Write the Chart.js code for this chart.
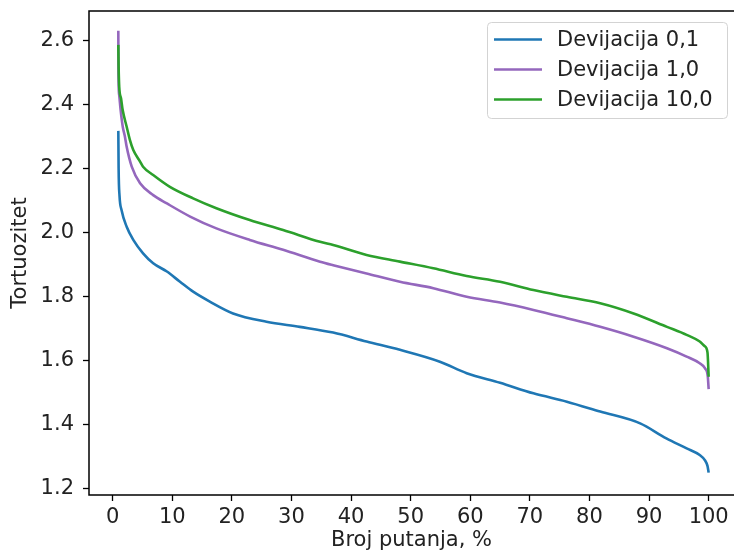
<!DOCTYPE html>
<html lang="en">
<head>
  <meta charset="UTF-8">
  <title>Tortuozitet</title>
  <script src="https://cdn.jsdelivr.net/npm/chart.js"></script>
  <style>
    html, body { margin: 0; padding: 0; background: #fff; }
    #wrap { width: 734px; height: 553px; }
  </style>
</head>
<body>
  <div id="wrap"><canvas id="chart" width="734" height="553"></canvas></div>

  <script>
    const seriesLabels = ["Devijacija 0,1", "Devijacija 1,0", "Devijacija 10,0"];
    const seriesColors = ["#1f77b4", "#9467bd", "#2ca02c"];

    const dev01X = [0.95, 1.0, 1.15, 1.5, 2.35, 3.46, 5.1, 6.8, 9.1, 11.3, 13.5, 16.3, 20.2, 25.8, 31.4, 37, 42.6, 48.2, 54.9, 59.4, 65, 70.6, 76.2, 81.8, 88.5, 92.9, 96.3, 98.5, 99.4, 99.8, 100];
    const dev01Y = [2.318, 2.2, 2.115, 2.07, 2.018, 1.977, 1.935, 1.904, 1.878, 1.846, 1.815, 1.784, 1.747, 1.721, 1.705, 1.687, 1.659, 1.633, 1.596, 1.56, 1.53, 1.497, 1.471, 1.44, 1.403, 1.356, 1.325, 1.304, 1.287, 1.27, 1.249];

    const dev1X = [0.95, 0.97, 1.1, 1.34, 1.7, 2.06, 2.35, 3.2, 4.6, 6.8, 9.1, 13, 17.4, 23, 28.6, 34.8, 37, 42.6, 48.2, 53.8, 59.4, 65, 70.6, 76.2, 81.8, 87.4, 93, 96.3, 98.5, 99.4, 99.85, 100];
    const dev1Y = [2.631, 2.5, 2.43, 2.383, 2.33, 2.3, 2.268, 2.206, 2.154, 2.117, 2.091, 2.05, 2.013, 1.977, 1.946, 1.909, 1.898, 1.872, 1.846, 1.826, 1.799, 1.781, 1.758, 1.732, 1.705, 1.674, 1.638, 1.612, 1.591, 1.575, 1.55, 1.51];

    const dev10X = [0.95, 1.0, 1.1, 1.4, 1.68, 2.35, 2.9, 3.46, 4.6, 5.1, 6.8, 9.6, 13.5, 17.4, 23, 28.6, 34.8, 37, 42.6, 48.2, 53.8, 59.4, 65, 70.6, 76.2, 81.8, 87.4, 93, 96.3, 98.5, 99.3, 99.8, 100];
    const dev10Y = [2.587, 2.52, 2.456, 2.42, 2.383, 2.331, 2.289, 2.258, 2.222, 2.206, 2.18, 2.143, 2.107, 2.076, 2.039, 2.008, 1.971, 1.961, 1.93, 1.909, 1.888, 1.864, 1.846, 1.82, 1.799, 1.779, 1.747, 1.705, 1.68, 1.659, 1.645, 1.625, 1.549];

    const xTicks = [0, 10, 20, 30, 40, 50, 60, 70, 80, 90, 100];
    const yTicks = [1.2, 1.4, 1.6, 1.8, 2.0, 2.2, 2.4, 2.6];

    const FONT = "'DejaVu Sans', sans-serif";
    const toPoints = (xs, ys) => xs.map((x, i) => ({ x: x, y: ys[i] }));
    const seriesData = [toPoints(dev01X, dev01Y), toPoints(dev1X, dev1Y), toPoints(dev10X, dev10Y)];

    // spines (top, left, bottom) like matplotlib
    const spines = {
      id: 'spines',
      afterDraw(chart) {
        const { ctx, chartArea: a } = chart;
        ctx.save();
        ctx.strokeStyle = '#000';
        ctx.lineWidth = 1.5;
        ctx.beginPath();
        ctx.moveTo(a.right + 2, a.top);
        ctx.lineTo(a.left, a.top);
        ctx.lineTo(a.left, a.bottom);
        ctx.lineTo(a.right + 2, a.bottom);
        ctx.stroke();
        ctx.restore();
      }
    };

    // legend box in the upper right corner
    const boxLegend = {
      id: 'boxLegend',
      afterDraw(chart) {
        const { ctx } = chart;
        const x0 = 487.5, y0 = 22.5, w = 240, h = 96, r = 4;
        ctx.save();
        ctx.beginPath();
        ctx.roundRect(x0, y0, w, h, r);
        ctx.fillStyle = 'rgba(255,255,255,0.8)';
        ctx.fill();
        ctx.strokeStyle = '#d3d3d3';
        ctx.lineWidth = 1;
        ctx.stroke();
        ctx.font = '21px ' + FONT;
        ctx.textBaseline = 'middle';
        ctx.fillStyle = '#222';
        chart.data.datasets.forEach((ds, i) => {
          const cy = 39.5 + i * 30;
          ctx.strokeStyle = ds.borderColor;
          ctx.lineWidth = 2.5;
          ctx.beginPath();
          ctx.moveTo(494, cy);
          ctx.lineTo(542, cy);
          ctx.stroke();
          ctx.fillText(ds.label, 557, cy + 1);
        });
        ctx.restore();
      }
    };

    new Chart(document.getElementById('chart'), {
      type: 'line',
      data: {
        datasets: seriesLabels.map((label, i) => ({
          label: label,
          data: seriesData[i],
          borderColor: seriesColors[i],
          backgroundColor: seriesColors[i],
          borderWidth: 2.6,
          pointRadius: 0,
          cubicInterpolationMode: 'monotone',
          fill: false,
          order: 2 - i
        }))
      },
      options: {
        responsive: false,
        animation: false,
        layout: { padding: { top: 11, right: 0, bottom: 0, left: 0 } },
        plugins: {
          legend: { display: false },
          tooltip: { enabled: false }
        },
        scales: {
          x: {
            type: 'linear',
            min: -3.97,
            max: 104.25,
            afterBuildTicks: s => { s.ticks = xTicks.map(v => ({ value: v })); },
            afterFit: s => { s.height = 58; s.paddingLeft = 0; s.paddingRight = 0; },
            border: { display: false },
            grid: { drawOnChartArea: false, drawTicks: true, tickLength: 6, color: '#000', tickWidth: 1.3 },
            ticks: { font: { family: FONT, size: 21 }, color: '#222', padding: 4, maxRotation: 0 },
            title: {
              display: true,
              text: 'Broj putanja, %',
              font: { family: FONT, size: 21 },
              color: '#222',
              padding: { top: 0, bottom: 0 }
            }
          },
          y: {
            min: 1.179,
            max: 2.693,
            afterBuildTicks: s => { s.ticks = yTicks.map(v => ({ value: v })); },
            afterFit: s => { s.width = 89; s.paddingTop = 0; s.paddingBottom = 0; },
            border: { display: false },
            grid: { drawOnChartArea: false, drawTicks: true, tickLength: 6, color: '#000', tickWidth: 1.3 },
            ticks: { font: { family: FONT, size: 21 }, color: '#222', padding: 9, callback: v => v.toFixed(1) },
            title: {
              display: true,
              text: 'Tortuozitet',
              font: { family: FONT, size: 21 },
              color: '#222',
              padding: { top: 8, bottom: 0 }
            }
          }
        }
      },
      plugins: [spines, boxLegend]
    });
  </script>
</body>
</html>
